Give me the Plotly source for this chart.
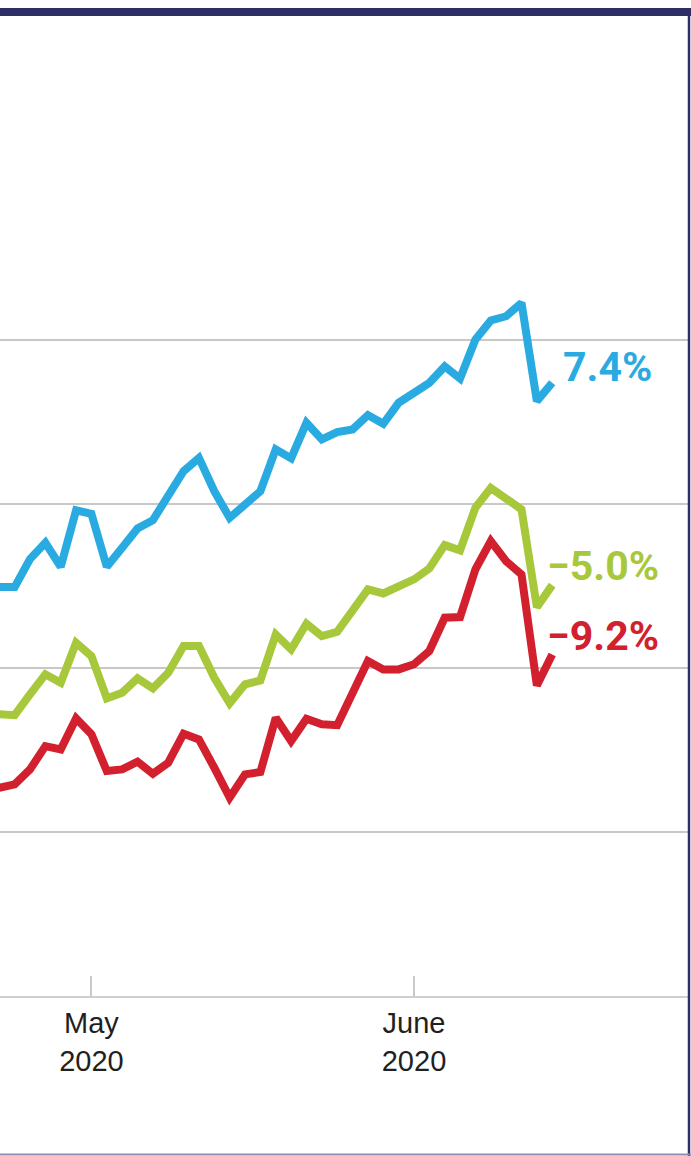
import plotly.graph_objects as go

dates = [
    "2020-04-23", "2020-04-24", "2020-04-27", "2020-04-28", "2020-04-29", "2020-04-30",
    "2020-05-01", "2020-05-04", "2020-05-05", "2020-05-06", "2020-05-07", "2020-05-08",
    "2020-05-11", "2020-05-12", "2020-05-13", "2020-05-14", "2020-05-15",
    "2020-05-18", "2020-05-19", "2020-05-20", "2020-05-21", "2020-05-22",
    "2020-05-25", "2020-05-26", "2020-05-27", "2020-05-28", "2020-05-29",
    "2020-06-01", "2020-06-02", "2020-06-03", "2020-06-04", "2020-06-05",
    "2020-06-08", "2020-06-09", "2020-06-10", "2020-06-11", "2020-06-12",
]

blue_values = [-5.06, -5.06, -3.35, -2.36, -3.82, -0.38, -0.59, -3.82, -2.66, -1.48,
               -0.98, 0.49, 2.01, 2.82, 0.79, -0.84, -0.02, 0.79, 3.34, 2.79,
               4.96, 3.95, 4.39, 4.55, 5.43, 4.90, 6.18, 6.79, 7.40, 8.40,
               7.66, 10.04, 11.20, 11.46, 12.27, 6.28, 7.40]
green_values = [-12.82, -12.87, -11.6, -10.38, -10.9, -8.46, -9.27, -11.85, -11.5, -10.63,
                -11.24, -10.29, -8.66, -8.66, -10.59, -12.15, -10.99, -10.75, -7.95, -8.86,
                -7.3, -8.05, -7.79, -6.52, -5.2, -5.45, -5.0, -4.59, -3.92, -2.5,
                -2.82, -0.22, 0.99, 0.29, -0.32, -6.28, -4.94]
red_values = [-17.3, -17.09, -16.18, -14.76, -14.96, -13.07, -14.04, -16.28, -16.18, -15.71,
              -16.45, -15.77, -14.0, -14.35, -16.08, -17.9, -16.48, -16.34, -13.03, -14.45,
              -13.09, -13.43, -13.48, -11.5, -9.57, -10.08, -10.08, -9.77, -8.96, -6.93,
              -6.89, -3.98, -2.26, -3.48, -4.29, -11.06, -9.17]

end_labels = ["7.4%", "\u22125.0%", "\u22129.2%"]
tick_dates = ["2020-05-01", "2020-06-01"]
tick_labels = ["May<br>2020", "June<br>2020"]
grid_values = [-20, -10, 0, 10]

BLUE = "#29abe2"
GREEN = "#a8c83b"
RED = "#d2202e"
NAVY = "#2e2d66"

series = [
    (blue_values, BLUE, end_labels[0], 9, 16),
    (green_values, GREEN, end_labels[1], -7, 19),
    (red_values, RED, end_labels[2], -7, 18.5),
]

fig = go.Figure()
for vals, color, label, xs, ys in series:
    fig.add_trace(go.Scatter(
        x=dates, y=vals, mode="lines",
        line=dict(color=color, width=8),
        hoverinfo="skip", showlegend=False,
    ))
    fig.add_annotation(
        x=dates[-1], y=vals[-1], xref="x", yref="y",
        text=label, showarrow=False, xanchor="left", yanchor="middle",
        xshift=xs, yshift=ys,
        font=dict(family="Roboto, Liberation Sans, sans-serif",
                  size=41, color=color, weight="bold"),
    )

# frame (top band, right and bottom border)
H_PLOT = 787.0
def py(pix):
    return (996.0 - pix) / H_PLOT

fig.add_shape(type="rect", xref="paper", yref="paper",
              x0=-0.01, x1=1.01, y0=py(16), y1=py(8),
              fillcolor=NAVY, line=dict(width=0), layer="above")
fig.add_shape(type="line", xref="paper", yref="paper",
              x0=689 / 688, x1=689 / 688, y0=py(1156), y1=py(12),
              line=dict(color=NAVY, width=2.5), layer="above")
fig.add_shape(type="line", xref="paper", yref="paper",
              x0=-0.01, x1=1.01, y0=py(1154.5), y1=py(1154.5),
              line=dict(color="#8f8eb2", width=2), layer="above")

fig.update_layout(
    width=691, height=1156,
    margin=dict(l=0, r=3, t=209, b=160, pad=0),
    paper_bgcolor="white", plot_bgcolor="white",
    showlegend=False,
    xaxis=dict(
        type="category", range=[0.047, 44.84],
        tickmode="array", tickvals=tick_dates, ticktext=tick_labels,
        ticks="inside", ticklen=20, tickwidth=1.5, tickcolor="#c9c9c9",
        showgrid=False, zeroline=False,
        showline=True, linecolor="#cfcfcf", linewidth=2,
        tickfont=dict(family="Liberation Sans, Arial, sans-serif", size=29, color="#231f20"),
        fixedrange=True,
    ),
    yaxis=dict(
        range=[-30, 18], tickmode="array", tickvals=grid_values,
        showticklabels=False, ticks="",
        showgrid=True, gridcolor="#c8c8c8", gridwidth=2,
        zeroline=False, showline=False, fixedrange=True,
    ),
)

fig.write_html("out.html", config={"displayModeBar": False},
               post_script="document.body.style.margin='0';document.body.style.padding='0';")
